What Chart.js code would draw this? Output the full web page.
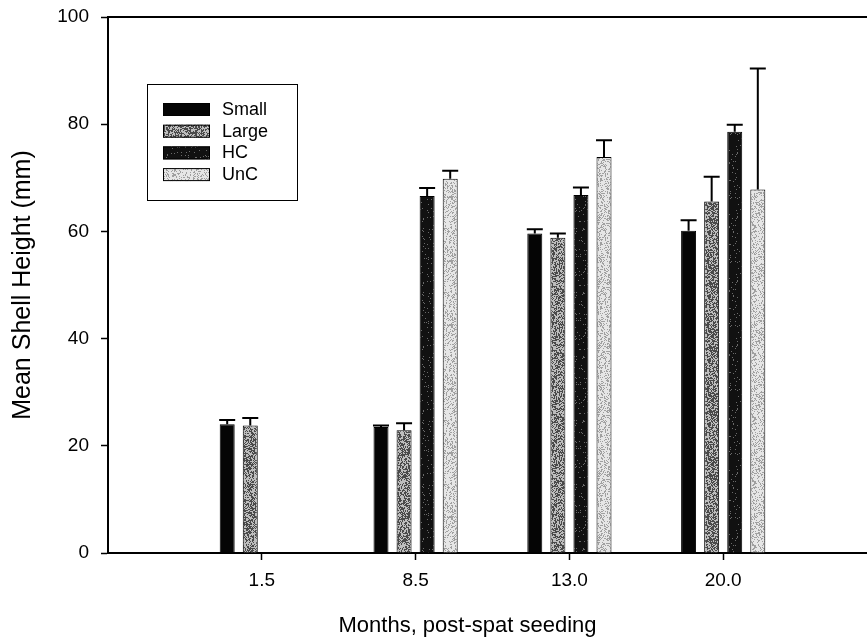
<!DOCTYPE html>
<html>
<head>
<meta charset="utf-8">
<script src="https://cdn.jsdelivr.net/npm/chart.js@4.4.0/dist/chart.umd.min.js"></script>
<style>
    html, body { margin: 0; padding: 0; background: #fff; overflow: hidden; }
    #wrap { width: 880px; height: 642px; }
</style>
</head>
<body>
<div id="wrap"><canvas id="graph"></canvas></div>
<script>
// Data
const months = ["", "1.5", "8.5", "13.0", "20.0", ""];
const seriesNames = ["Small", "Large", "HC", "UnC"];

const smallMean = [null, 24.0, 23.5, 59.6, 60.1, null];
const largeMean = [null, 23.8, 22.9, 58.8, 65.6, null];
const hcMean = [null, null, 66.6, 66.8, 78.6, null];
const uncMean = [null, null, 69.8, 73.9, 67.8, null];

const smallErr = [null, 0.8, 0.3, 0.8, 2.0, null];
const largeErr = [null, 1.4, 1.3, 0.8, 4.6, null];
const hcErr = [null, null, 1.5, 1.4, 1.3, null];
const uncErr = [null, null, 1.5, 3.1, 22.6, null];

const yTicks = [0, 20, 40, 60, 80, 100];

const FONT = "'Liberation Sans', Arial, sans-serif";

// stippled fill, integer hash so it looks like the scanned print
function stipple(base, speck, share) {
    const c = document.createElement("canvas");
    c.width = 64;
    c.height = 64;
    const g = c.getContext("2d");
    g.fillStyle = base;
    g.fillRect(0, 0, 64, 64);
    g.fillStyle = speck;
    for (let y = 0; y < 64; y++) {
        for (let x = 0; x < 64; x++) {
            let h = (x * 374761393 + y * 668265263) | 0;
            h = Math.imul(h ^ (h >>> 13), 1274126177);
            h = (h ^ (h >>> 16)) >>> 0;
            if (h / 4294967296 < share) g.fillRect(x, y, 1, 1);
        }
    }
    return g.createPattern(c, "repeat");
}

const fills = [
    "#050505",
    stipple("#bdbdbd", "#4a4a4a", 0.5),
    stipple("#111111", "#6a6a6a", 0.06),
    stipple("#e6e6e6", "#a0a0a0", 0.3),
];

const means = [smallMean, largeMean, hcMean, uncMean];
const errors = [smallErr, largeErr, hcErr, uncErr];

// upper error whiskers
const errorBars = {
    id: "errorBars",
    afterDatasetsDraw(chart) {
        const ctx = chart.ctx;
        const y = chart.scales.y;
        ctx.save();
        ctx.strokeStyle = "#000";
        ctx.lineWidth = 2;
        chart.data.datasets.forEach((ds, i) => {
            const meta = chart.getDatasetMeta(i);
            meta.data.forEach((bar, j) => {
                const v = ds.data[j];
                const e = errors[i][j];
                if (v == null || e == null) return;
                const top = y.getPixelForValue(v + e);
                ctx.beginPath();
                ctx.moveTo(bar.x, bar.y);
                ctx.lineTo(bar.x, top);
                ctx.moveTo(bar.x - 8, top);
                ctx.lineTo(bar.x + 8, top);
                ctx.stroke();
            });
        });
        ctx.restore();
    },
};

// top frame line, legend box and x title
const extras = {
    id: "extras",
    afterDraw(chart) {
        const ctx = chart.ctx;
        const a = chart.chartArea;
        ctx.save();
        ctx.strokeStyle = "#000";
        ctx.lineWidth = 2;
        ctx.beginPath();
        ctx.moveTo(a.left, a.top);
        ctx.lineTo(a.right, a.top);
        ctx.stroke();

        // legend
        const lx = a.left + 39, ly = a.top + 67;
        ctx.lineWidth = 1;
        ctx.strokeRect(lx + 0.5, ly + 0.5, 150, 116);
        ctx.font = "18px " + FONT;
        ctx.textBaseline = "middle";
        chart.data.datasets.forEach((ds, i) => {
            const cy = ly + 25 + i * 21.7;
            ctx.fillStyle = ds.backgroundColor;
            ctx.fillRect(lx + 16, cy - 6, 47, 13);
            ctx.strokeRect(lx + 16.5, cy - 5.5, 46, 12);
            ctx.fillStyle = "#000";
            ctx.fillText(ds.label, lx + 75, cy + 1);
        });

        // x axis title
        const xs = chart.scales.x;
        const tx = (xs.getPixelForValue(2) + xs.getPixelForValue(3)) / 2 - 25;
        ctx.font = "22px " + FONT;
        ctx.textAlign = "center";
        ctx.textBaseline = "middle";
        ctx.fillText("Months, post-spat seeding", tx, 626);
        ctx.restore();
    },
};

new Chart(document.getElementById("graph"), {
    type: "bar",
    data: {
        labels: months,
        datasets: seriesNames.map((name, i) => ({
            label: name,
            data: means[i],
            backgroundColor: fills[i],
            borderColor: "#000",
            borderWidth: 1,
            categoryPercentage: 0.6,
            barPercentage: 0.65,
        })),
    },
    options: {
        responsive: true,
        maintainAspectRatio: false,
        animation: false,
        layout: { padding: { top: 17, right: 3, left: 0, bottom: 0 } },
        plugins: {
            legend: { display: false },
            tooltip: { enabled: false },
        },
        scales: {
            x: {
                offset: false,
                border: { display: true, color: "#000", width: 2 },
                grid: {
                    offset: false,
                    drawOnChartArea: false,
                    drawTicks: true,
                    tickLength: 7,
                    tickWidth: 1.5,
                    tickColor: (c) => (months[c.index] ? "#000" : "rgba(0,0,0,0)"),
                },
                ticks: {
                    color: "#000",
                    font: { family: FONT, size: 19 },
                    padding: 9,
                    maxRotation: 0,
                    autoSkip: false,
                },
                afterFit: (s) => { s.height = 89; s.paddingLeft = 0; s.paddingRight = 0; },
            },
            y: {
                min: 0,
                max: 100,
                border: { display: true, color: "#000", width: 2 },
                grid: {
                    drawOnChartArea: false,
                    drawTicks: true,
                    tickLength: 7,
                    tickWidth: 1.5,
                    tickColor: "#000",
                },
                afterBuildTicks: (s) => { s.ticks = yTicks.map((v) => ({ value: v })); },
                ticks: {
                    color: "#000",
                    font: { family: FONT, size: 19 },
                    padding: 12,
                },
                title: {
                    display: true,
                    text: "Mean Shell Height (mm)",
                    color: "#000",
                    font: { family: FONT, size: 25 },
                    padding: { top: 8, bottom: 0 },
                },
                afterFit: (s) => { s.width = 108; s.paddingTop = 0; s.paddingBottom = 0; },
            },
        },
    },
    plugins: [errorBars, extras],
});
</script>
</body>
</html>
